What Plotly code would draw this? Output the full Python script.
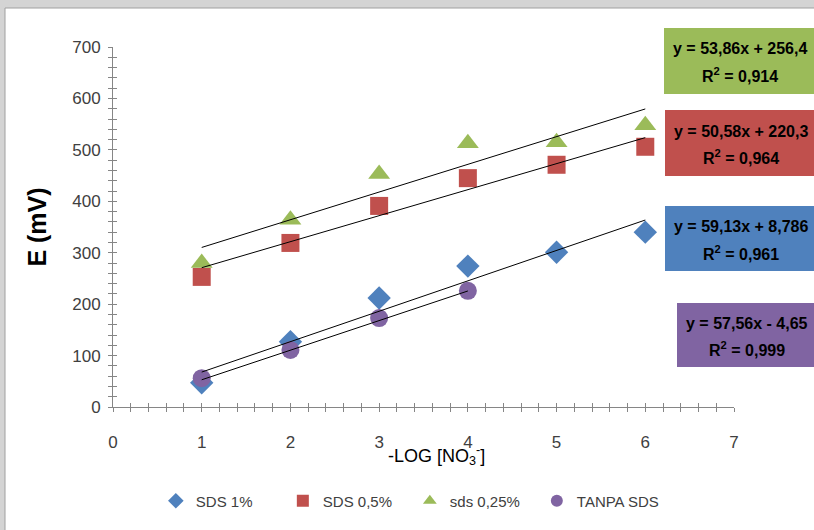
import plotly.graph_objects as go

# ---- data ----
x_vals = [1, 2, 3, 4, 5, 6]
x_tanpa = [1, 2, 3, 4]
sds_1 = [47, 127, 212, 274, 301, 340]
sds_05 = [253, 319, 391, 445, 471, 506]
sds_025 = [280, 364, 453, 513, 515, 548]
tanpa_sds = [56, 111, 173, 226]

series_names = ["SDS 1%", "SDS 0,5%", "sds 0,25%", "TANPA SDS"]
slopes = [59.13, 50.58, 53.86, 57.56]
intercepts = [8.786, 220.3, 256.4, -4.65]
eq_line1 = ["y = 59,13x + 8,786", "y = 50,58x + 220,3", "y = 53,86x + 256,4", "y = 57,56x - 4,65"]
eq_line2 = ["R<sup>2</sup> = 0,961", "R<sup>2</sup> = 0,964", "R<sup>2</sup> = 0,914", "R<sup>2</sup> = 0,999"]
x_ticks = [0, 1, 2, 3, 4, 5, 6, 7]
y_ticks = [0, 100, 200, 300, 400, 500, 600, 700]

colors = ["#4F81BD", "#C0504D", "#9BBB59", "#8064A2"]
symbols = ["diamond", "square", "triangle-up", "circle"]
sizes = [18, 18, 19, 18]

FONT = "Liberation Sans Narrow, Arial Narrow, Liberation Sans, sans-serif"

xs = [x_vals, x_vals, x_vals, x_tanpa]
ys = [sds_1, sds_05, sds_025, tanpa_sds]

fig = go.Figure()

for i in range(4):
    fig.add_trace(go.Scatter(
        x=xs[i], y=ys[i], mode="markers", name=series_names[i],
        marker=dict(symbol=symbols[i], size=sizes[i], color=colors[i],
                    line=dict(width=0)),
    ))
# linear trendlines (Excel draws them on top of the markers)
for i in range(4):
    x0, x1 = xs[i][0], xs[i][-1]
    fig.add_trace(go.Scatter(
        x=[x0, x1], y=[slopes[i] * x0 + intercepts[i], slopes[i] * x1 + intercepts[i]],
        mode="lines", line=dict(color="#000000", width=1), showlegend=False,
        hoverinfo="skip",
    ))

# dummy trace for the overlay axes (inside ticks -> crossing ticks)
fig.add_trace(go.Scatter(x=[None], y=[None], xaxis="x2", yaxis="y2",
                         showlegend=False, hoverinfo="skip"))

axis_col = "#868686"
tick_font = dict(family=FONT, size=17, color="#404040")

fig.update_layout(
    width=814, height=530,
    margin=dict(l=113, r=80, t=47, b=123),
    paper_bgcolor="#d4d4d4",
    plot_bgcolor="rgba(0,0,0,0)",
    showlegend=True,
    legend=dict(orientation="h", x=0.478, xanchor="center", y=-0.261, yanchor="middle",
                font=dict(family=FONT, size=15, color="#404040"),
                itemsizing="constant", bgcolor="rgba(0,0,0,0)",
                entrywidth=82, entrywidthmode="pixels"),
    xaxis=dict(range=[0, 7], tickvals=x_ticks, showgrid=False, zeroline=False,
               showline=True, linecolor=axis_col, linewidth=1,
               ticks="outside", ticklen=4, tickcolor=axis_col,
               minor=dict(dtick=0.2, ticks="outside", ticklen=4, tickcolor=axis_col),
               tickfont=tick_font, ticklabelstandoff=16),
    yaxis=dict(range=[0, 700], tickvals=y_ticks, showgrid=False, zeroline=False,
               showline=True, linecolor=axis_col, linewidth=1,
               ticks="outside", ticklen=4, tickcolor=axis_col,
               minor=dict(dtick=20, ticks="outside", ticklen=4, tickcolor=axis_col),
               tickfont=tick_font, ticklabelstandoff=4,
               title=dict(text="<b>E (mV)</b>",
                          font=dict(family="Liberation Sans, sans-serif", size=25, color="#000000"),
                          standoff=18)),
    xaxis2=dict(overlaying="x", matches="x", anchor="y", range=[0, 7], tickvals=x_ticks,
                showgrid=False, zeroline=False, showticklabels=False,
                ticks="inside", ticklen=4, tickcolor=axis_col,
                minor=dict(dtick=0.2, ticks="inside", ticklen=4, tickcolor=axis_col)),
    yaxis2=dict(overlaying="y", matches="y", anchor="x", range=[0, 700], tickvals=y_ticks,
                showgrid=False, zeroline=False, showticklabels=False,
                ticks="inside", ticklen=4, tickcolor=axis_col,
                minor=dict(dtick=20, ticks="inside", ticklen=4, tickcolor=axis_col)),
)

# pixel -> paper helpers (plot area spans x 113..734, y 47..407)
def px(xp):
    return (xp - 113) / 621


def py(yp):
    return (407 - yp) / 360


# white chart area over gray frame
fig.add_shape(type="rect", xref="paper", yref="paper", x0=px(5), x1=px(830), y0=py(545), y1=py(8),
              fillcolor="#ffffff", line=dict(color="#a0a0a0", width=1), layer="below")

# x-axis title (sits close to the tick labels, as in the original)
fig.add_annotation(xref="paper", yref="paper", x=px(436), y=py(455),
                   xanchor="center", yanchor="middle", showarrow=False,
                   text="-LOG [NO<sub>3</sub><sup>-</sup>]",
                   font=dict(family=FONT, size=18, color="#000000"))

# equation boxes
box_left = [665, 665, 664, 677]
box_top = [206, 110, 28, 303]
box_bot = [271, 176, 94, 367]
for i in range(4):
    fig.add_shape(type="rect", xref="paper", yref="paper",
                  x0=px(box_left[i]), x1=px(816), y0=py(box_bot[i]), y1=py(box_top[i]),
                  fillcolor=colors[i], line=dict(width=0), layer="above")
    cx = (box_left[i] + 816) / 2
    cy = (box_top[i] + box_bot[i]) / 2
    fig.add_annotation(xref="paper", yref="paper", x=px(cx), y=py(cy - 12),
                       xanchor="center", yanchor="middle", showarrow=False,
                       text="<b>" + eq_line1[i] + "</b>",
                       font=dict(family=FONT, size=16, color="#000000"))
    fig.add_annotation(xref="paper", yref="paper", x=px(cx), y=py(cy + 14),
                       xanchor="center", yanchor="middle", showarrow=False,
                       text="<b>" + eq_line2[i] + "</b>",
                       font=dict(family=FONT, size=16, color="#000000"))

fig.write_html("out.html", config={"displayModeBar": False},
               post_script="document.body.style.margin='0';document.body.style.overflow='hidden';")
